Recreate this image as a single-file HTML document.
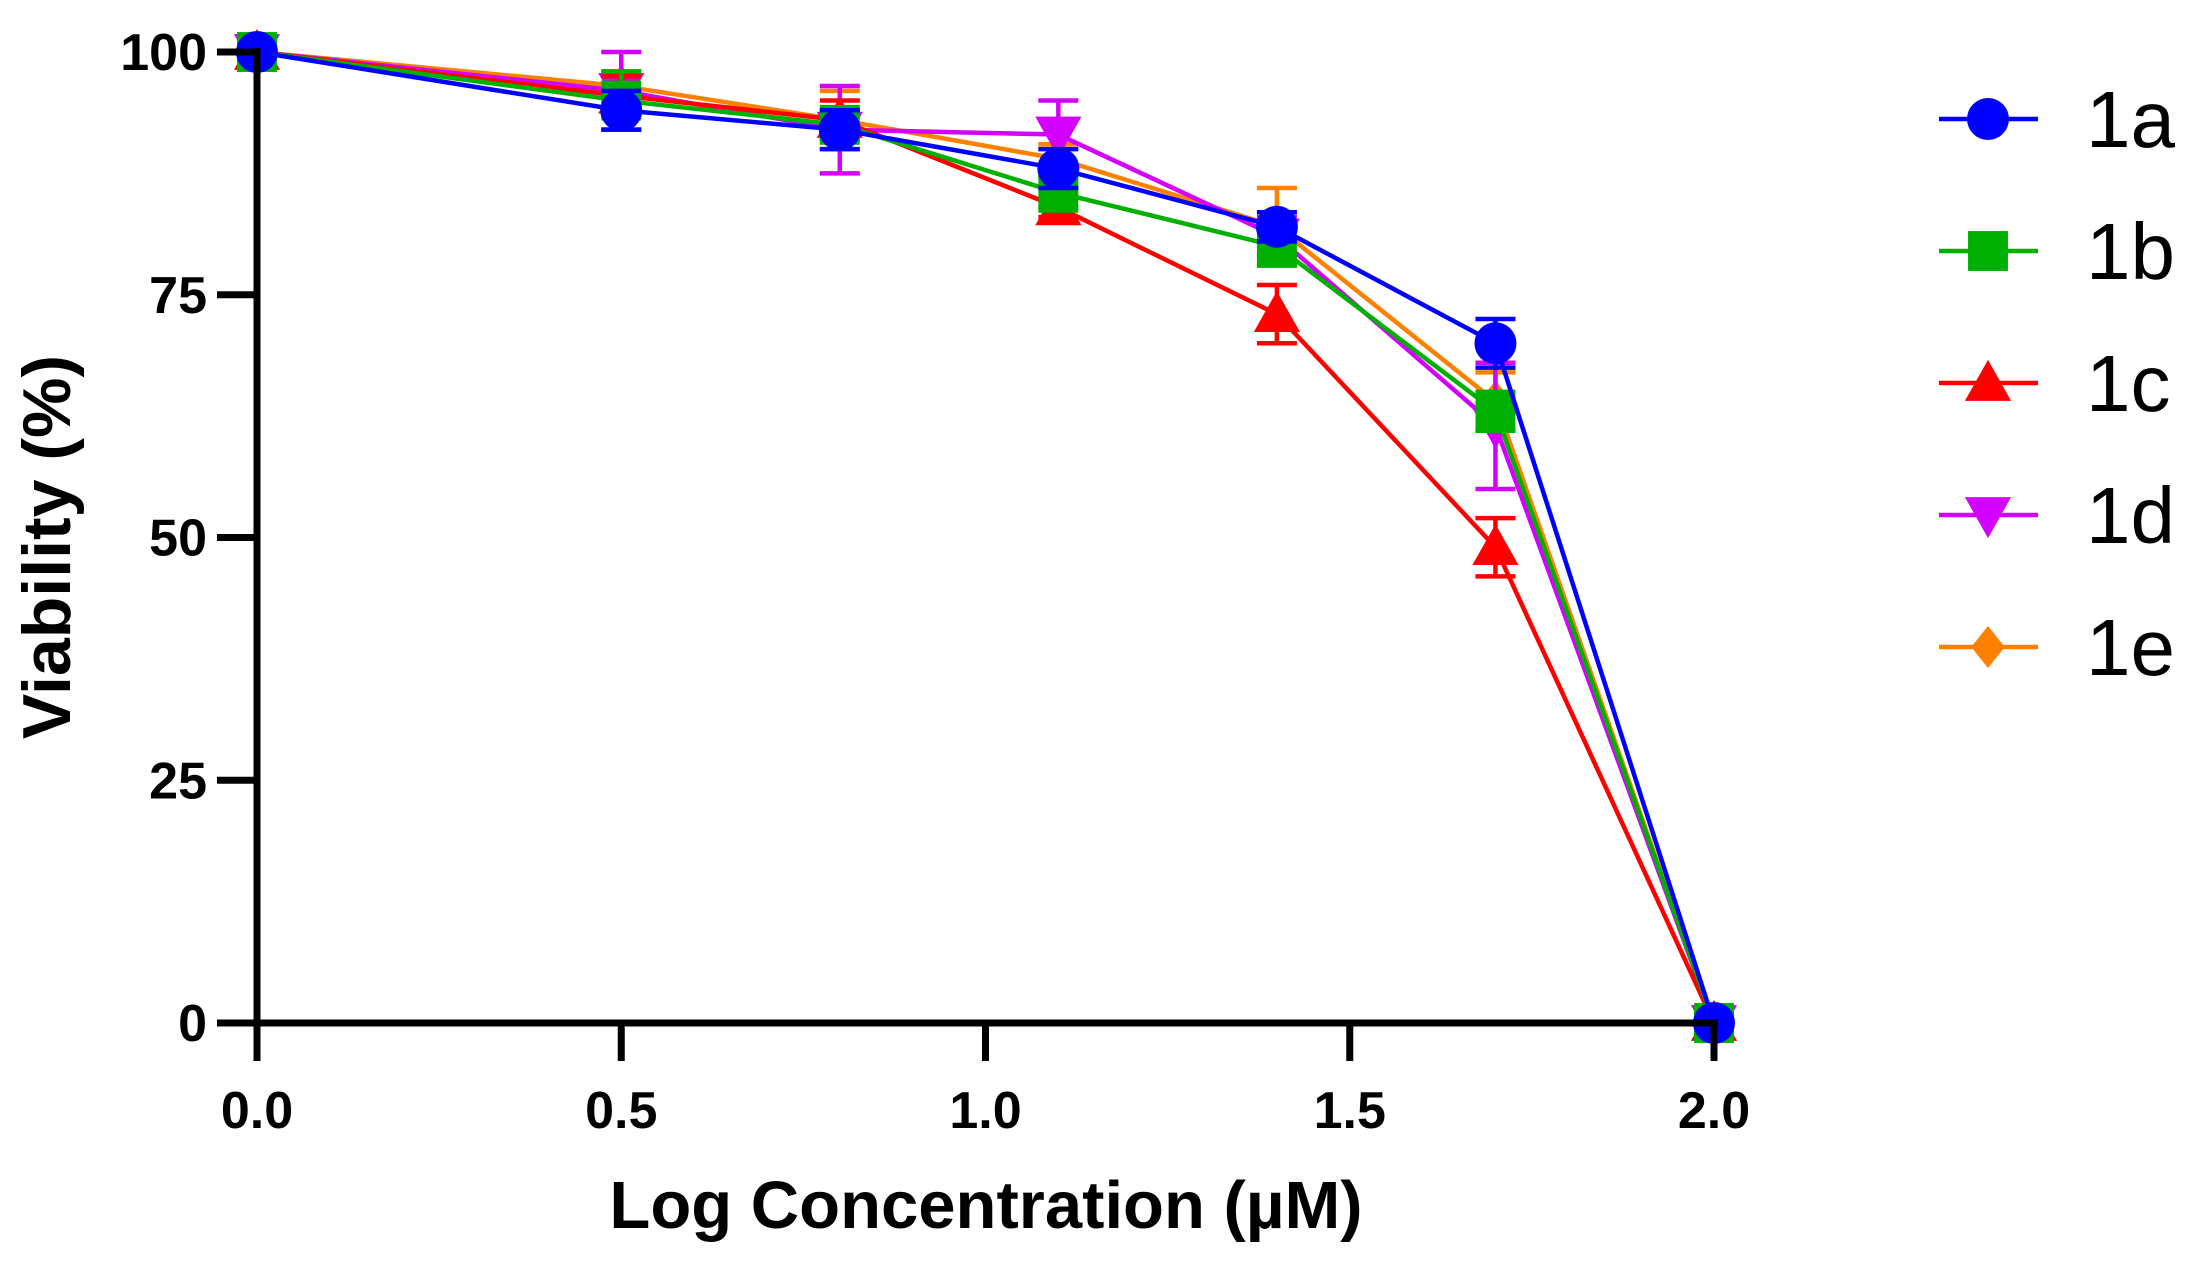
<!DOCTYPE html>
<html><head><meta charset="utf-8"><style>
html,body{margin:0;padding:0;background:#fff;}
svg{display:block;font-family:"Liberation Sans",Arial,sans-serif;}
</style></head><body>
<svg id="chart" width="2200" height="1262" viewBox="0 0 2200 1262">
<g id="plot"></g>
<g id="axes"></g>
<g id="legend"></g>
<text x="986" y="1228" text-anchor="middle" font-size="67" font-weight="bold">Log Concentration (µM)</text>
<text transform="translate(70,547) rotate(-90)" text-anchor="middle" font-size="68" font-weight="bold">Viability (%)</text>
</svg>
<script>
const xValues = [0, 0.5, 0.8, 1.1, 1.4, 1.7, 2.0];
const seriesNames = ["1a", "1b", "1c", "1d", "1e"];
const v1a = [100, 94, 92, 88, 82, 70, 0];
const v1b = [100, 95, 92.5, 85.5, 80, 63, 0];
const v1c = [100, 95.5, 93, 84, 73, 49, 0];
const v1d = [100, 96, 92, 91.5, 81, 61.5, 0];
const v1e = [100, 96.5, 93, 89, 82, 64, 0];
const e1a = [0, 2, 2, 2, 1.5, 2.5, 0];
const e1b = [1, 3, 1.5, 1.5, 2, 2, 1];
const e1c = [0, 2, 2, 1, 3, 3, 0];
const e1d = [0, 4, 4.5, 3.5, 2, 6.5, 0];
const e1e = [0, 1.5, 3, 1.5, 4, 3, 0];
const xTicks = [0, 0.5, 1.0, 1.5, 2.0];
const xTickLabels = ["0.0", "0.5", "1.0", "1.5", "2.0"];
const yTicks = [0, 25, 50, 75, 100];
const yTickLabels = ["0", "25", "50", "75", "100"];

const NS = "http://www.w3.org/2000/svg";
const X = v => 257 + (v - 0) / 2 * (1714 - 257);
const Y = v => 1023 - v / 100 * (1023 - 52);
function mk(tag, attrs, parent) { const e = document.createElementNS(NS, tag); for (const k in attrs) e.setAttribute(k, attrs[k]); parent.appendChild(e); return e; }

const colors = {"1a":"#0000ff","1b":"#00b000","1c":"#ff0000","1d":"#d400ff","1e":"#ff8000"};
const shapes = {"1a":"circle","1b":"square","1c":"tri-up","1d":"tri-down","1e":"diamond"};
const vals = {"1a":v1a,"1b":v1b,"1c":v1c,"1d":v1d,"1e":v1e};
const errs = {"1a":e1a,"1b":e1b,"1c":e1c,"1d":e1d,"1e":e1e};

function marker(shape, cx, cy, s, color, parent) {
  let el;
  if (shape === "circle") el = mk("circle", {cx, cy, r: s}, parent);
  else if (shape === "square") el = mk("rect", {x: cx - s*0.95, y: cy - s*0.95, width: s*1.9, height: s*1.9}, parent);
  else if (shape === "tri-up") el = mk("polygon", {points: `${cx},${cy - s*1.1} ${cx + s*1.1},${cy + s*0.85} ${cx - s*1.1},${cy + s*0.85}`}, parent);
  else if (shape === "tri-down") el = mk("polygon", {points: `${cx},${cy + s*1.1} ${cx + s*1.1},${cy - s*0.85} ${cx - s*1.1},${cy - s*0.85}`}, parent);
  else el = mk("polygon", {points: `${cx},${cy - s} ${cx + s*0.8},${cy} ${cx},${cy + s} ${cx - s*0.8},${cy}`}, parent);
  el.setAttribute("fill", color);
  return el;
}

const plot = document.getElementById("plot");
const order = ["1e", "1d", "1c", "1b", "1a"];
order.forEach(name => {
  const g = mk("g", {}, plot);
  
  
  const c = colors[name];
  const pts = xValues.map((x, i) => X(x) + "," + Y(vals[name][i])).join(" ");
  const line = mk("polyline", {points: pts, fill: "none", stroke: c, "stroke-width": 4.5}, g);
  
  
  xValues.forEach((x, i) => {
    const e = errs[name][i];
    if (e > 0) {
      const cx = X(x), y1 = Y(vals[name][i] + e), y2 = Y(vals[name][i] - e);
      const eb = mk("path", {d: `M${cx},${y1}V${y2}M${cx-20},${y1}H${cx+20}M${cx-20},${y2}H${cx+20}`, stroke: c, "stroke-width": 4.5, fill: "none"}, g);
      
      
    }
    const m = marker(shapes[name], X(x), Y(vals[name][i]), 21, c, g);
    
    
  });
});

const axes = document.getElementById("axes");
const xa = mk("line", {x1: 257, y1: 1023, x2: 1718, y2: 1023, stroke: "#000", "stroke-width": 7}, axes);


const ya = mk("line", {x1: 257, y1: 48, x2: 257, y2: 1026, stroke: "#000", "stroke-width": 7}, axes);


xTicks.forEach((t, i) => {
  const tk = mk("line", {x1: X(t), y1: 1023, x2: X(t), y2: 1061, stroke: "#000", "stroke-width": 7}, axes);
  
  
  const tl = mk("text", {x: X(t), y: 1128, "text-anchor": "middle", "font-size": 52, "font-weight": "bold"}, axes);
  tl.textContent = xTickLabels[i];
  
  
});
yTicks.forEach((t, i) => {
  const tk = mk("line", {x1: 217, y1: Y(t), x2: 257, y2: Y(t), stroke: "#000", "stroke-width": 7}, axes);
  
  
  const tl = mk("text", {x: 207, y: Y(t) + 18, "text-anchor": "end", "font-size": 52, "font-weight": "bold"}, axes);
  tl.textContent = yTickLabels[i];
  
  
});

const legend = document.getElementById("legend");
seriesNames.forEach((name, i) => {
  const y = 119 + i * 132;
  const g = mk("g", {}, legend);
  
  
  mk("line", {x1: 1939, y1: y, x2: 2038, y2: y, stroke: colors[name], "stroke-width": 4.5}, g);
  marker(shapes[name], 1988, y, 21, colors[name], g);
  const t = mk("text", {x: 2086, y: y + 28, "font-size": 80}, g);
  t.textContent = name;
});
</script>
</body></html>
